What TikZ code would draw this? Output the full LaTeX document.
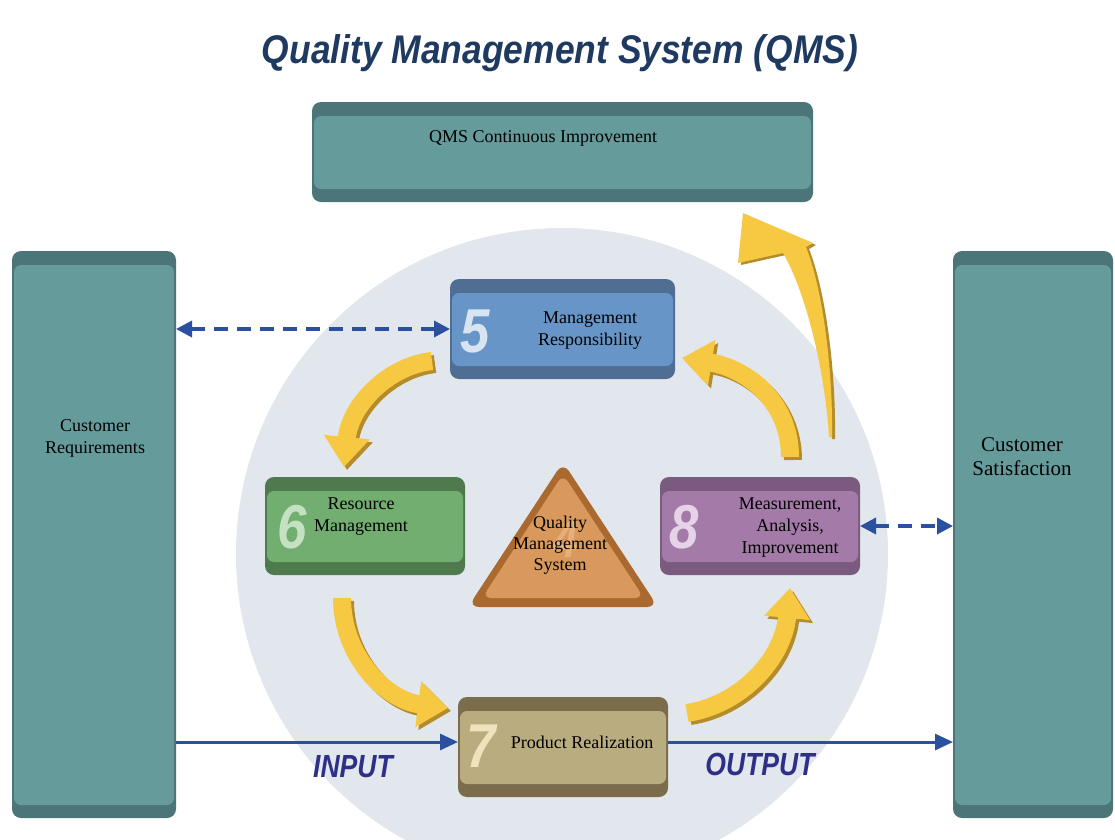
\documentclass[tikz,border=0pt]{standalone}
\usepackage{fontspec}
\setmainfont{Liberation Serif}
\newfontfamily\arialf{Liberation Sans}
\usepackage{graphicx}
\usetikzlibrary{arrows.meta}
\definecolor{bgcirc}{HTML}{E2E7ED}
\definecolor{tealmain}{HTML}{669B9C}
\definecolor{tealdark}{HTML}{4B7578}
\definecolor{bluemain}{HTML}{6895C7}
\definecolor{bluedark}{HTML}{506E94}
\definecolor{greenmain}{HTML}{72AE70}
\definecolor{greendark}{HTML}{4F7A4E}
\definecolor{purpmain}{HTML}{A47BA8}
\definecolor{purpdark}{HTML}{7A5A7E}
\definecolor{tanmain}{HTML}{B9AD80}
\definecolor{tandark}{HTML}{7B6C4C}
\definecolor{tridark}{HTML}{A9692F}
\definecolor{trimain}{HTML}{D9985C}
\definecolor{qyellow}{HTML}{F7C842}
\definecolor{qyshadow}{HTML}{B48C2C}
\definecolor{qblue}{HTML}{2B50A0}
\definecolor{titlenavy}{HTML}{1F3A60}
\definecolor{lblnavy}{HTML}{2E3088}
\definecolor{dfive}{HTML}{D8E4F2}
\definecolor{dsix}{HTML}{C4E2C2}
\definecolor{deight}{HTML}{E6D3E8}
\definecolor{dseven}{HTML}{EFE3BC}
\definecolor{dfour}{HTML}{E7B07A}
\newcommand\qmsbox[6]{%
  \node[qbox, fill=#5, minimum width=#3, minimum height=#4] (#1) at (#2) {};
  \fill[#6, rounded corners=7pt] ([xshift=2pt,yshift=-14pt]#1.north west) rectangle ([xshift=-2pt,yshift=13pt]#1.south east);
}
\newcommand\qmsdigit[1]{\scalebox{0.85}[1]{#1}}
\tikzset{
  qbox/.style={inner sep=0pt, outer sep=0pt, rounded corners=9pt, draw=none},
  lbl/.style={font=\fontsize{18}{22}\selectfont, align=center, text=black, inner sep=0pt},
  digit/.style={font=\arialf\bfseries\itshape\fontsize{62}{62}\selectfont, inner sep=0pt},
  yarrow/.style={draw=qyellow, line width=18pt, -{Triangle[width=44pt,length=30pt]}},
  yshadow/.style={draw=qyshadow, line width=18pt, -{Triangle[width=44pt,length=30pt]}, xshift=3pt, yshift=-3pt},
  dasharrow/.style={draw=qblue, line width=3.5pt, dash pattern=on 14pt off 9pt, {Triangle[length=16pt,width=16pt]}-{Triangle[length=16pt,width=16pt]}},
  flowarrow/.style={draw=qblue, line width=3pt, -{Triangle[length=18pt,width=16pt]}},
  iolbl/.style={anchor=base, inner sep=0pt},
}
\begin{document}
\begin{tikzpicture}[x=1pt,y=-1pt]
\useasboundingbox (0,0) rectangle (1115,839);
\begin{scope}
  \clip (0,0) rectangle (1115,839);
  \fill[bgcirc] (562,554) circle[radius=326];
\end{scope}
% title
\node[iolbl, text=titlenavy] (title) at (560,63) {\scalebox{0.885}[1]{\arialf\bfseries\itshape\fontsize{40}{40}\selectfont Quality Management System (QMS)}};
% columns and top box
\qmsbox{lcol}{94,534.5}{164pt}{567pt}{tealdark}{tealmain}
\qmsbox{rcol}{1033,534.5}{160pt}{567pt}{tealdark}{tealmain}
\qmsbox{cimp}{562.5,152}{501pt}{100pt}{tealdark}{tealmain}
\node[lbl] (cimpt) at (543,138) {QMS Continuous Improvement};
\node[lbl] (lcolt) at (95,438.5) {Customer\\Requirements};
\node[lbl, font=\fontsize{21}{24}\selectfont] (rcolt) at (1022,457) {Customer\\Satisfaction};
% process boxes
\qmsbox{b5}{562.5,329}{225pt}{100pt}{bluedark}{bluemain}
\qmsbox{b6}{365,526}{200pt}{98pt}{greendark}{greenmain}
\qmsbox{b8}{760,526}{200pt}{98pt}{purpdark}{purpmain}
\qmsbox{b7}{563,747}{210pt}{100pt}{tandark}{tanmain}
% connectors
\draw[dasharrow] (lcol.east |- b5.west) -- (b5.west);
\draw[dasharrow] (b8.east) -- (rcol.west |- b8.east);
\coordinate (b7in) at ([yshift=5pt]b7.west);
\coordinate (b7out) at ([yshift=5pt]b7.east);
\draw[flowarrow] (lcol.east |- b7in) -- (b7in);
\draw[flowarrow] (b7out) -- (rcol.west |- b7out);
% triangle
\fill[tridark, rounded corners=11pt] (563,462) -- (658,607) -- (468,607) -- cycle;
\fill[trimain, rounded corners=9pt] (563,474) -- (644,598) -- (482,598) -- cycle;
\node[digit, text=dfour, font=\arialf\bfseries\itshape\fontsize{52}{52}\selectfont] (d4) at (566,540) {\qmsdigit{4}};
\node[lbl] (trit) at (560,545) {Quality\\[-1pt]Management\\[-1pt]System};
% digits
\node[digit, text=dfive] (d5) at (475,331) {\qmsdigit{5}};
\node[digit, text=dsix] (d6) at (292,527) {\qmsdigit{6}};
\node[digit, text=deight] (d8) at (684,527) {\qmsdigit{8}};
\node[digit, text=dseven] (d7) at (481,746) {\qmsdigit{7}};
% box texts
\node[lbl] (b5t) at (590,331) {Management\\Responsibility};
\node[lbl] (b6t) at (361,517) {Resource\\Management};
\node[lbl] (b8t) at (790,528) {Measurement,\\Analysis,\\Improvement};
\node[lbl] (b7t) at (582,742) {Product Realization};
% yellow arrows
\draw[yshadow] (432,361) .. controls (388,366) and (350,405) .. (344,467);
\draw[yarrow] (432,361) .. controls (388,366) and (350,405) .. (344,467);
\draw[yshadow] (342,598) .. controls (342,655) and (385,700) .. (448,708);
\draw[yarrow] (342,598) .. controls (342,655) and (385,700) .. (448,708);
\draw[yshadow] (687,713) .. controls (740,705) and (783,660) .. (790,588);
\draw[yarrow] (687,713) .. controls (740,705) and (783,660) .. (790,588);
\draw[yshadow] (790,457) .. controls (790,400) and (745,368) .. (682,358);
\draw[yarrow] (790,457) .. controls (790,400) and (745,368) .. (682,358);
\fill[qyshadow, xshift=3pt, yshift=-2pt] (783,253) .. controls (805,290) and (825,370) .. (829,437) -- (832,437) .. controls (833,370) and (823,290) .. (806,247) -- (813,243) -- (743,213) -- (738,263) -- cycle;
\fill[qyellow] (783,253) .. controls (805,290) and (825,370) .. (829,437) -- (832,437) .. controls (833,370) and (823,290) .. (806,247) -- (813,243) -- (743,213) -- (738,263) -- cycle;
% io labels
\node[iolbl, text=lblnavy] (inlbl) at (353,777) {\scalebox{0.83}[1]{\arialf\bfseries\itshape\fontsize{32}{32}\selectfont INPUT}};
\node[iolbl, text=lblnavy] (outlbl) at (760,775) {\scalebox{0.83}[1]{\arialf\bfseries\itshape\fontsize{32}{32}\selectfont OUTPUT}};
\end{tikzpicture}
\end{document}
